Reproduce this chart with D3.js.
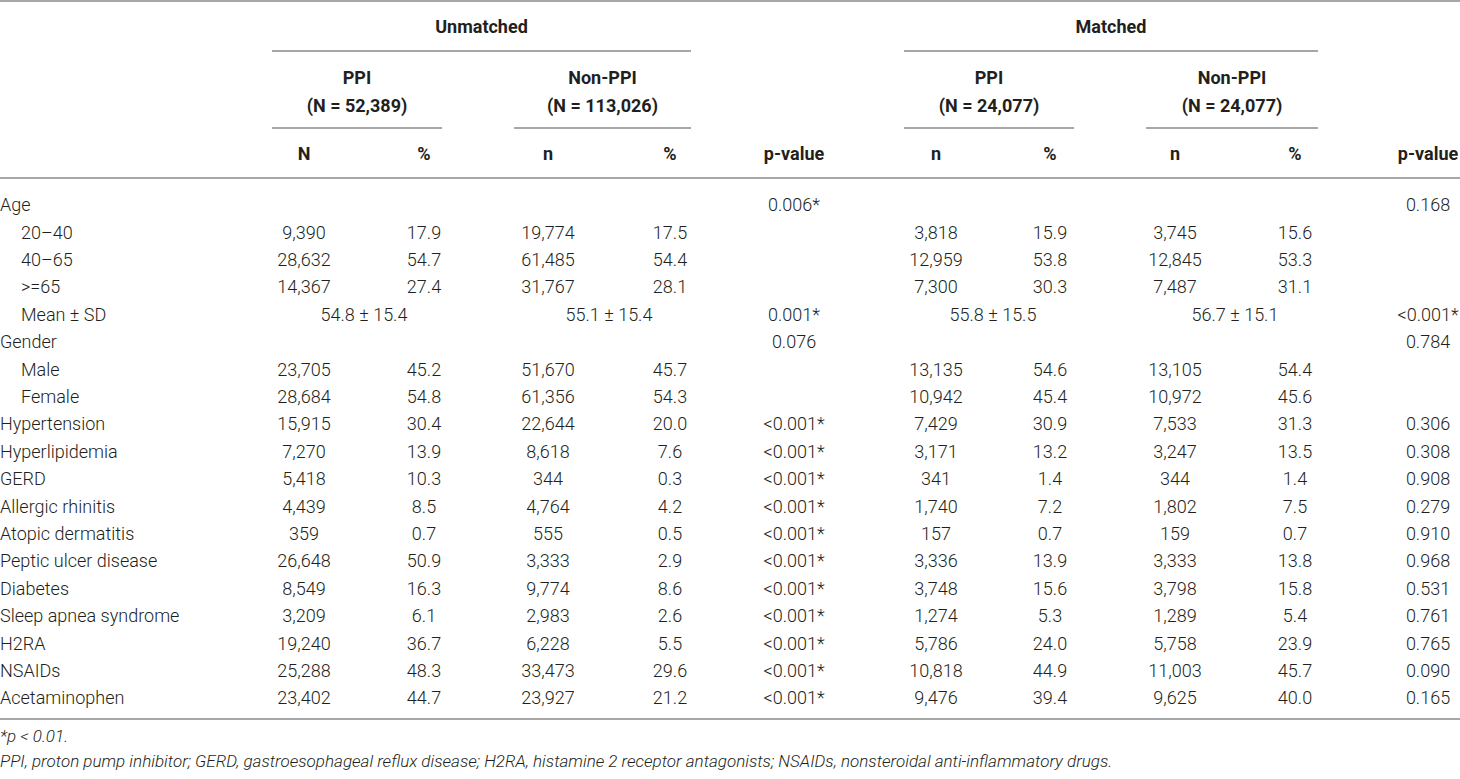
<!DOCTYPE html>
<html>
<head>
<meta charset="utf-8">
<script src="https://cdn.jsdelivr.net/npm/d3@7"></script>
<style>
  body { margin: 0; background: #fff; }
  text { font-family: Roboto, "Liberation Sans", sans-serif; fill: #231f20; }
  .body { font-weight: 300; font-size: 18px; }
  .head { font-weight: 700; font-size: 18px; }
  .note { font-weight: 300; font-size: 17px; font-style: italic; }
</style>
</head>
<body>
<svg id="chart" width="1460" height="779"></svg>
<script>
// row labels, sub rows are indented
const rowLabels = ["Age", "20–40", "40–65", ">=65", "Mean ± SD", "Gender", "Male", "Female",
  "Hypertension", "Hyperlipidemia", "GERD", "Allergic rhinitis", "Atopic dermatitis",
  "Peptic ulcer disease", "Diabetes", "Sleep apnea syndrome", "H2RA", "NSAIDs", "Acetaminophen"];
const indented = [0, 1, 1, 1, 1, 0, 1, 1, 0, 0, 0, 0, 0, 0, 0, 0, 0, 0, 0];

// unmatched cohort
const uPpiN = ["", "9,390", "28,632", "14,367", "", "", "23,705", "28,684", "15,915", "7,270", "5,418",
  "4,439", "359", "26,648", "8,549", "3,209", "19,240", "25,288", "23,402"];
const uPpiPct = ["", "17.9", "54.7", "27.4", "", "", "45.2", "54.8", "30.4", "13.9", "10.3",
  "8.5", "0.7", "50.9", "16.3", "6.1", "36.7", "48.3", "44.7"];
const uNonN = ["", "19,774", "61,485", "31,767", "", "", "51,670", "61,356", "22,644", "8,618", "344",
  "4,764", "555", "3,333", "9,774", "2,983", "6,228", "33,473", "23,927"];
const uNonPct = ["", "17.5", "54.4", "28.1", "", "", "45.7", "54.3", "20.0", "7.6", "0.3",
  "4.2", "0.5", "2.9", "8.6", "2.6", "5.5", "29.6", "21.2"];
const uP = ["0.006*", "", "", "", "0.001*", "0.076", "", "", "<0.001*", "<0.001*", "<0.001*",
  "<0.001*", "<0.001*", "<0.001*", "<0.001*", "<0.001*", "<0.001*", "<0.001*", "<0.001*"];

// matched cohort
const mPpiN = ["", "3,818", "12,959", "7,300", "", "", "13,135", "10,942", "7,429", "3,171", "341",
  "1,740", "157", "3,336", "3,748", "1,274", "5,786", "10,818", "9,476"];
const mPpiPct = ["", "15.9", "53.8", "30.3", "", "", "54.6", "45.4", "30.9", "13.2", "1.4",
  "7.2", "0.7", "13.9", "15.6", "5.3", "24.0", "44.9", "39.4"];
const mNonN = ["", "3,745", "12,845", "7,487", "", "", "13,105", "10,972", "7,533", "3,247", "344",
  "1,802", "159", "3,333", "3,798", "1,289", "5,758", "11,003", "9,625"];
const mNonPct = ["", "15.6", "53.3", "31.1", "", "", "54.4", "45.6", "31.3", "13.5", "1.4",
  "7.5", "0.7", "13.8", "15.8", "5.4", "23.9", "45.7", "40.0"];
const mP = ["0.168", "", "", "", "<0.001*", "0.784", "", "", "0.306", "0.308", "0.908",
  "0.279", "0.910", "0.968", "0.531", "0.761", "0.765", "0.090", "0.165"];

// mean ± SD row spans the n and % columns of each group
const meanRow = 4;
const meanSD = ["54.8 ± 15.4", "55.1 ± 15.4", "55.8 ± 15.5", "56.7 ± 15.1"];

const groupHeads = ["Unmatched", "Matched"];
const armHeads = ["PPI", "Non-PPI", "PPI", "Non-PPI"];
const armCounts = ["(N = 52,389)", "(N = 113,026)", "(N = 24,077)", "(N = 24,077)"];
const colHeads = ["N", "%", "n", "%", "p-value", "n", "%", "n", "%", "p-value"];
const notes = ["*p < 0.01.",
  "PPI, proton pump inhibitor; GERD, gastroesophageal reflux disease; H2RA, histamine 2 receptor antagonists; NSAIDs, nonsteroidal anti-inflammatory drugs."];

const W = 1460;
const svg = d3.select("#chart");

// column centres
const colKeys = d3.range(10);
const x = d3.scaleOrdinal().domain(colKeys)
  .range([304, 424, 548, 670, 794, 936, 1050, 1175, 1295, 1428]);
const y = d3.scaleLinear().domain([0, rowLabels.length - 1]).range([205, 698]);

const lineColor = "#8a8a8a";
function hline(x1, x2, yy) {
  svg.append("line").attr("x1", x1).attr("x2", x2).attr("y1", yy).attr("y2", yy)
    .attr("stroke", lineColor).attr("stroke-width", 1.6);
}

// rules
hline(0, W, 1);
hline(0, W, 178);
hline(0, W, 719);
const groupSpans = [[272, 691], [904, 1318]];
const armSpans = [[272, 442], [514, 691], [904, 1074], [1146, 1318]];
groupSpans.forEach(s => hline(s[0], s[1], 51));
armSpans.forEach(s => hline(s[0], s[1], 128));

// header text
svg.selectAll(".g-head").data(groupHeads).join("text")
  .attr("class", "head").attr("text-anchor", "middle")
  .attr("x", (d, i) => (groupSpans[i][0] + groupSpans[i][1]) / 2)
  .attr("y", 27).attr("dy", "0.35em").text(d => d);

svg.selectAll(".a-head").data(armHeads).join("text")
  .attr("class", "head").attr("text-anchor", "middle")
  .attr("x", (d, i) => (armSpans[i][0] + armSpans[i][1]) / 2)
  .attr("y", 78).attr("dy", "0.35em").text(d => d);

svg.selectAll(".a-count").data(armCounts).join("text")
  .attr("class", "head").attr("text-anchor", "middle")
  .attr("x", (d, i) => (armSpans[i][0] + armSpans[i][1]) / 2)
  .attr("y", 106).attr("dy", "0.35em").text(d => d);

svg.selectAll(".c-head").data(colHeads).join("text")
  .attr("class", "head").attr("text-anchor", "middle")
  .attr("x", (d, i) => x(i)).attr("y", 154).attr("dy", "0.35em").text(d => d);

// row labels
svg.selectAll(".r-label").data(rowLabels).join("text")
  .attr("class", "body")
  .attr("x", (d, i) => indented[i] ? 21 : 0)
  .attr("y", (d, i) => y(i)).attr("dy", "0.35em").text(d => d);

// body cells
const columns = [uPpiN, uPpiPct, uNonN, uNonPct, uP, mPpiN, mPpiPct, mNonN, mNonPct, mP];
columns.forEach((col, c) => {
  svg.append("g").selectAll("text").data(col).join("text")
    .attr("class", "body").attr("text-anchor", "middle")
    .attr("x", x(c)).attr("y", (d, i) => y(i)).attr("dy", "0.35em").text(d => d);
});

// merged mean ± SD cells
const meanPairs = [[0, 1], [2, 3], [5, 6], [7, 8]];
svg.append("g").selectAll("text").data(meanSD).join("text")
  .attr("class", "body").attr("text-anchor", "middle")
  .attr("x", (d, i) => (x(meanPairs[i][0]) + x(meanPairs[i][1])) / 2)
  .attr("y", y(meanRow)).attr("dy", "0.35em").text(d => d);

// footnotes
svg.selectAll(".note").data(notes).join("text")
  .attr("class", "note").attr("x", 0)
  .attr("y", (d, i) => 736 + i * 25).attr("dy", "0.35em").text(d => d);
</script>
</body>
</html>
